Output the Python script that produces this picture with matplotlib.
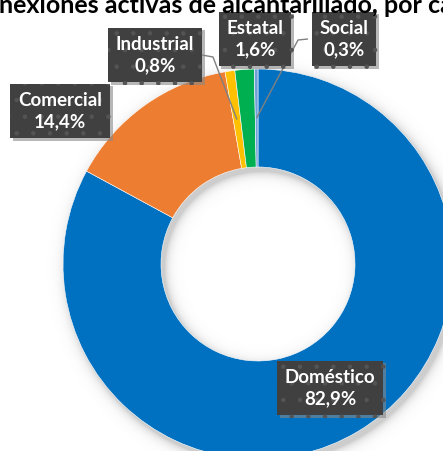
import numpy as np
import matplotlib
matplotlib.use("Agg")
import matplotlib.pyplot as plt
import matplotlib.patheffects as pe

plt.rcParams['font.family'] = ['Lato', 'DejaVu Sans']
plt.rcParams['hatch.linewidth'] = 0.8

# --- Daten ---
categorias = ["Doméstico", "Comercial", "Industrial", "Estatal", "Social"]
porcentajes = [82.9, 14.4, 0.8, 1.6, 0.3]
colores = ["#0070C0", "#ED7D31", "#FFC000", "#00B050", "#6FA0D8"]

titulo = "Conexiones activas de alcantarillado, por categoría"

# --- Layout (Pixel) ---
W, H = 443, 451
cx, cy = 258, H - 264       # Mittelpunkt des Rings
R, ancho = 195, 98          # Außenradius, Ringbreite

# Etikettenpositionen (Boxmitte) und Knickpunkt der Führungslinie
etiquetas = {
    "Doméstico": (330, H - 388, None),
    "Comercial": (60, H - 111, None),
    "Industrial": (155, H - 55, (213, H - 57)),
    "Estatal": (255, H - 39, None),
    "Social": (344, H - 39, (298, H - 40)),
}

fig = plt.figure(figsize=(W / 100, H / 100), dpi=100)
ax = fig.add_axes([0, 0, 1, 1])

# weicher Schatten unter dem Ring
yy, xx = np.mgrid[0:H, 0:W]
r = np.hypot(xx - (cx + 3), (H - yy) - (cy - 4))
d = np.maximum.reduce([r - R, (R - ancho) - r, np.zeros_like(r)])
alpha = 0.30 * np.exp(-d / 4.5)
sombra = np.zeros((H, W, 4))
sombra[..., :3] = 0.35
sombra[..., 3] = alpha
ax.imshow(sombra, extent=(0, W, 0, H), origin="upper", zorder=0, interpolation="bilinear")

wedges, _ = ax.pie(
    porcentajes, colors=colores, startangle=90, counterclock=False,
    radius=R, center=(cx, cy),
    wedgeprops=dict(width=ancho, edgecolor="white", linewidth=0.4),
)
for w in wedges:
    w.set_zorder(2)

ax.set_xlim(0, W)
ax.set_ylim(0, H)
ax.set_aspect("equal")
ax.axis("off")

# --- Etiketten ---
for cat, val, w in zip(categorias, porcentajes, wedges):
    x, y, knick = etiquetas[cat]
    txt = f"{cat}\n{val:.1f}%".replace(".", ",")
    t = ax.text(x, y, txt, ha="center", va="center", fontsize=13.5, fontweight="bold",
                color="white", linespacing=1.35, zorder=5,
                bbox=dict(boxstyle="square,pad=0.42", facecolor="#404040",
                          edgecolor="#545454", linewidth=0, hatch="."))
    t.get_bbox_patch().set_path_effects([
        pe.SimplePatchShadow(offset=(2, -2), shadow_rgbFace="#888888", alpha=0.6),
        pe.Normal(),
    ])
    if knick is not None:
        ang = np.deg2rad((w.theta1 + w.theta2) / 2)
        rm = R - ancho / 2
        px, py = cx + rm * np.cos(ang), cy + rm * np.sin(ang)
        bx = x + (47 if knick[0] > x else -36)
        ax.plot([bx, knick[0], px], [y, knick[1], py], color="#808080",
                linewidth=1.0, zorder=3, solid_capstyle="butt")

# --- Titel (oben angeschnitten) ---
renderer = fig.canvas.get_renderer()
t0 = ax.text(0, 0, "Co", fontsize=18, fontweight="bold")
dx = t0.get_window_extent(renderer).width
t0.remove()
ax.text(-dx - 1, H - 13, titulo, ha="left", va="baseline", fontsize=18,
        fontweight="bold", color="black", zorder=6)

fig.savefig("out.png", dpi=100)
